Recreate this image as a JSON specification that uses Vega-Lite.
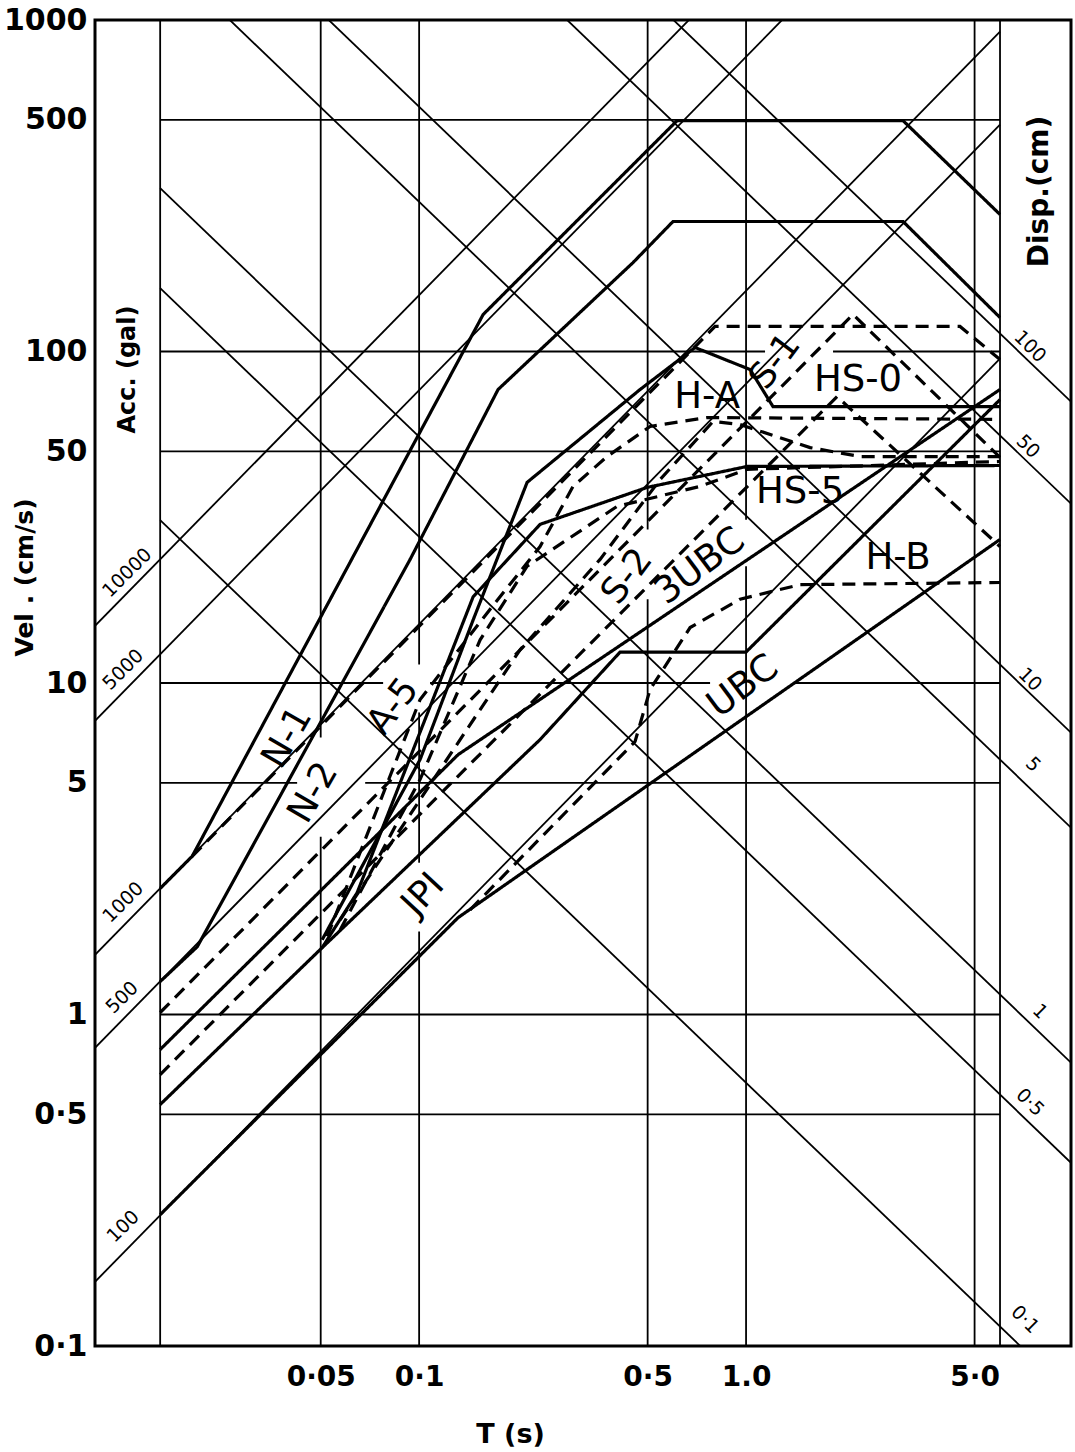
{
  "$schema": "https://vega.github.io/schema/vega-lite/v6.json",
  "width": 976,
  "height": 1326,
  "autosize": {"type": "none"},
  "padding": {"left": 95, "top": 20, "right": 4, "bottom": 106},
  "background": "white",
  "config": {"view": {"stroke": "black", "strokeWidth": 3}, "font": "DejaVu Sans"},
  "datasets": {
    "grid": [
      {"t": 0.01614, "t2": 5.981, "v": 500, "v2": 500},
      {"t": 0.01614, "t2": 1.143, "v": 100, "v2": 100},
      {"t": 1.845, "t2": 5.981, "v": 100, "v2": 100},
      {"t": 0.01614, "t2": 5.981, "v": 50, "v2": 50},
      {"t": 0.01614, "t2": 0.0776, "v": 10, "v2": 10},
      {"t": 0.108, "t2": 0.7761, "v": 10, "v2": 10},
      {"t": 1.392, "t2": 5.981, "v": 10, "v2": 10},
      {"t": 0.01614, "t2": 0.04235, "v": 5, "v2": 5},
      {"t": 0.06839, "t2": 5.981, "v": 5, "v2": 5},
      {"t": 0.01614, "t2": 5.981, "v": 1, "v2": 1},
      {"t": 0.01614, "t2": 5.981, "v": 0.5, "v2": 0.5},
      {"t": 0.01614, "t2": 0.01614, "v": 0.1, "v2": 1000},
      {"t": 0.05, "t2": 0.05, "v": 0.1, "v2": 3.44},
      {"t": 0.05, "t2": 0.05, "v": 6.85, "v2": 1000},
      {"t": 0.1, "t2": 0.1, "v": 0.1, "v2": 1.78},
      {"t": 0.1, "t2": 0.1, "v": 2.87, "v2": 8.15},
      {"t": 0.1, "t2": 0.1, "v": 11.37, "v2": 1000},
      {"t": 0.5, "t2": 0.5, "v": 0.1, "v2": 17.9},
      {"t": 0.5, "t2": 0.5, "v": 29.04, "v2": 1000},
      {"t": 1, "t2": 1, "v": 0.1, "v2": 22.5},
      {"t": 1, "t2": 1, "v": 31.1, "v2": 1000},
      {"t": 5, "t2": 5, "v": 0.1, "v2": 1000},
      {"t": 5.981, "t2": 5.981, "v": 0.1, "v2": 1000},
      {"t": 0.0102, "t2": 5.981, "v": 0.1562, "v2": 95.1},
      {"t": 0.0102, "t2": 5.981, "v": 0.7933, "v2": 483.3},
      {"t": 0.0102, "t2": 5.981, "v": 1.514, "v2": 921.9},
      {"t": 0.0102, "t2": 5.981, "v": 7.691, "v2": 4684},
      {"t": 0.0102, "t2": 5.981, "v": 14.88, "v2": 9062},
      {"t": 0.01614, "t2": 9.86, "v": 30680, "v2": 70.56},
      {"t": 0.01614, "t2": 9.86, "v": 15084, "v2": 34.75},
      {"t": 0.01614, "t2": 9.86, "v": 3078, "v2": 7.08},
      {"t": 0.01614, "t2": 9.86, "v": 1591, "v2": 3.66},
      {"t": 0.01614, "t2": 9.86, "v": 311.2, "v2": 0.7155},
      {"t": 0.01614, "t2": 9.86, "v": 155.3, "v2": 0.3571},
      {"t": 0.01614, "t2": 9.86, "v": 31.0, "v2": 0.0713}
    ],
    "curves": [
      {"c": "N-1", "s": "solid", "i": 0, "t": 0.01614, "v": 2.40},
      {"c": "N-1", "s": "solid", "i": 1, "t": 0.02022, "v": 3.00},
      {"c": "N-1", "s": "solid", "i": 2, "t": 0.157, "v": 129.3},
      {"c": "N-1", "s": "solid", "i": 3, "t": 0.6151, "v": 497},
      {"c": "N-1", "s": "solid", "i": 4, "t": 3.021, "v": 497},
      {"c": "N-1", "s": "solid", "i": 5, "t": 5.981, "v": 259},
      {"c": "N-2", "s": "solid", "i": 0, "t": 0.01614, "v": 1.257},
      {"c": "N-2", "s": "solid", "i": 1, "t": 0.02095, "v": 1.60},
      {"c": "N-2", "s": "solid", "i": 2, "t": 0.09386, "v": 23.6},
      {"c": "N-2", "s": "solid", "i": 3, "t": 0.1744, "v": 76.8},
      {"c": "N-2", "s": "solid", "i": 4, "t": 0.4512, "v": 185.5},
      {"c": "N-2", "s": "solid", "i": 5, "t": 0.5978, "v": 246.7},
      {"c": "N-2", "s": "solid", "i": 6, "t": 3.021, "v": 246.7},
      {"c": "N-2", "s": "solid", "i": 7, "t": 5.981, "v": 126.6},
      {"c": "H-A", "s": "solid", "i": 0, "t": 0.0505, "v": 1.68},
      {"c": "H-A", "s": "solid", "i": 1, "t": 0.1007, "v": 5.88},
      {"c": "H-A", "s": "solid", "i": 2, "t": 0.1463, "v": 15.5},
      {"c": "H-A", "s": "solid", "i": 3, "t": 0.214, "v": 40.3},
      {"c": "H-A", "s": "solid", "i": 4, "t": 0.4741, "v": 76.8},
      {"c": "H-A", "s": "solid", "i": 5, "t": 0.6983, "v": 102.8},
      {"c": "H-A", "s": "solid", "i": 6, "t": 1.029, "v": 88.2},
      {"c": "H-A", "s": "solid", "i": 7, "t": 1.209, "v": 68.2},
      {"c": "H-A", "s": "solid", "i": 8, "t": 5.981, "v": 68.2},
      {"c": "HS-5", "s": "solid", "i": 0, "t": 0.0505, "v": 1.59},
      {"c": "HS-5", "s": "solid", "i": 1, "t": 0.06462, "v": 2.33},
      {"c": "HS-5", "s": "solid", "i": 2, "t": 0.1463, "v": 18.2},
      {"c": "HS-5", "s": "solid", "i": 3, "t": 0.2344, "v": 30.1},
      {"c": "HS-5", "s": "solid", "i": 4, "t": 0.498, "v": 38.9},
      {"c": "HS-5", "s": "solid", "i": 5, "t": 1.007, "v": 45.0},
      {"c": "HS-5", "s": "solid", "i": 6, "t": 5.981, "v": 45.3},
      {"c": "JPI", "s": "solid", "i": 0, "t": 0.01614, "v": 0.535},
      {"c": "JPI", "s": "solid", "i": 1, "t": 0.0505, "v": 1.59},
      {"c": "JPI", "s": "solid", "i": 2, "t": 0.2344, "v": 6.75},
      {"c": "JPI", "s": "solid", "i": 3, "t": 0.4119, "v": 12.4},
      {"c": "JPI", "s": "solid", "i": 4, "t": 1.0, "v": 12.4},
      {"c": "JPI", "s": "solid", "i": 5, "t": 5.981, "v": 71.6},
      {"c": "3UBC", "s": "solid", "i": 0, "t": 0.01614, "v": 0.784},
      {"c": "3UBC", "s": "solid", "i": 1, "t": 0.1316, "v": 6.08},
      {"c": "3UBC", "s": "solid", "i": 2, "t": 5.981, "v": 76.8},
      {"c": "UBC", "s": "solid", "i": 0, "t": 0.01614, "v": 0.249},
      {"c": "UBC", "s": "solid", "i": 1, "t": 0.1316, "v": 1.96},
      {"c": "UBC", "s": "solid", "i": 2, "t": 5.981, "v": 27.1},
      {"c": "S-1", "s": "dashed", "i": 0, "t": 0.01614, "v": 1.014},
      {"c": "S-1", "s": "dashed", "i": 1, "t": 2.124, "v": 129.3},
      {"c": "S-1", "s": "dashed", "i": 2, "t": 5.981, "v": 47.9},
      {"c": "HS-0", "s": "dashed", "i": 0, "t": 0.01614, "v": 0.659},
      {"c": "HS-0", "s": "dashed", "i": 1, "t": 1.898, "v": 73.1},
      {"c": "HS-0", "s": "dashed", "i": 2, "t": 5.981, "v": 25.8},
      {"c": "N-d", "s": "dashed", "i": 0, "t": 0.02022, "v": 3.00},
      {"c": "N-d", "s": "dashed", "i": 1, "t": 0.8039, "v": 119.0},
      {"c": "N-d", "s": "dashed", "i": 2, "t": 4.512, "v": 119.0},
      {"c": "N-d", "s": "dashed", "i": 3, "t": 5.981, "v": 94.6},
      {"c": "A-5", "s": "dashed", "i": 0, "t": 0.05233, "v": 1.72},
      {"c": "A-5", "s": "dashed", "i": 1, "t": 0.1007, "v": 8.92},
      {"c": "A-5", "s": "dashed", "i": 2, "t": 0.1649, "v": 16.7},
      {"c": "A-5", "s": "dashed", "i": 3, "t": 0.2344, "v": 25.8},
      {"c": "A-5", "s": "dashed", "i": 4, "t": 0.2958, "v": 39.2},
      {"c": "A-5", "s": "dashed", "i": 5, "t": 0.3757, "v": 48.2},
      {"c": "A-5", "s": "dashed", "i": 6, "t": 0.5086, "v": 59.4},
      {"c": "A-5", "s": "dashed", "i": 7, "t": 0.76, "v": 63.2},
      {"c": "A-5", "s": "dashed", "i": 8, "t": 5.981, "v": 62.4},
      {"c": "S-2", "s": "dashed", "i": 0, "t": 0.05733, "v": 1.93},
      {"c": "S-2", "s": "dashed", "i": 1, "t": 0.1007, "v": 4.45},
      {"c": "S-2", "s": "dashed", "i": 2, "t": 0.2037, "v": 12.6},
      {"c": "S-2", "s": "dashed", "i": 3, "t": 0.3577, "v": 23.6},
      {"c": "S-2", "s": "dashed", "i": 4, "t": 0.5458, "v": 41.1},
      {"c": "S-2", "s": "dashed", "i": 5, "t": 0.7925, "v": 61.5},
      {"c": "S-2", "s": "dashed", "i": 6, "t": 0.9587, "v": 60.2},
      {"c": "S-2", "s": "dashed", "i": 7, "t": 1.57, "v": 51.3},
      {"c": "S-2", "s": "dashed", "i": 8, "t": 2.232, "v": 48.2},
      {"c": "S-2", "s": "dashed", "i": 9, "t": 5.981, "v": 48.2},
      {"c": "HS-5d", "s": "dashed", "i": 0, "t": 0.05733, "v": 1.80},
      {"c": "HS-5d", "s": "dashed", "i": 1, "t": 0.1007, "v": 5.12},
      {"c": "HS-5d", "s": "dashed", "i": 2, "t": 0.1537, "v": 13.5},
      {"c": "HS-5d", "s": "dashed", "i": 3, "t": 0.214, "v": 22.5},
      {"c": "HS-5d", "s": "dashed", "i": 4, "t": 0.4032, "v": 34.1},
      {"c": "HS-5d", "s": "dashed", "i": 5, "t": 0.7235, "v": 39.2},
      {"c": "HS-5d", "s": "dashed", "i": 6, "t": 1.007, "v": 44.1},
      {"c": "HS-5d", "s": "dashed", "i": 7, "t": 5.981, "v": 46.6},
      {"c": "H-B", "s": "dashed", "i": 0, "t": 0.1432, "v": 2.07},
      {"c": "H-B", "s": "dashed", "i": 1, "t": 0.4576, "v": 6.66},
      {"c": "H-B", "s": "dashed", "i": 2, "t": 0.5086, "v": 9.56},
      {"c": "H-B", "s": "dashed", "i": 3, "t": 0.6743, "v": 14.7},
      {"c": "H-B", "s": "dashed", "i": 4, "t": 0.9587, "v": 17.9},
      {"c": "H-B", "s": "dashed", "i": 5, "t": 1.463, "v": 19.8},
      {"c": "H-B", "s": "dashed", "i": 6, "t": 5.981, "v": 20.1}
    ],
    "labels": [
      {"name": "N-1", "t": 0.03948, "v": 6.85},
      {"name": "N-2", "t": 0.04741, "v": 4.67},
      {"name": "A-5", "t": 0.08326, "v": 8.49},
      {"name": "H-A", "t": 0.76, "v": 73.1},
      {"name": "S-1", "t": 1.227, "v": 93.3},
      {"name": "HS-0", "t": 2.2, "v": 82.3},
      {"name": "HS-5", "t": 1.463, "v": 37.6},
      {"name": "S-2", "t": 0.4325, "v": 20.96},
      {"name": "3UBC", "t": 0.7235, "v": 22.5},
      {"name": "H-B", "t": 2.916, "v": 23.9},
      {"name": "UBC", "t": 0.979, "v": 9.76},
      {"name": "JPI", "t": 0.1028, "v": 2.30}
    ],
    "dlabels": [
      {"txt": "10000", "kind": "acc", "t": 0.01279, "v": 21.5},
      {"txt": "5000", "kind": "acc", "t": 0.01244, "v": 10.98},
      {"txt": "1000", "kind": "acc", "t": 0.01244, "v": 2.18},
      {"txt": "500", "kind": "acc", "t": 0.01235, "v": 1.125},
      {"txt": "100", "kind": "acc", "t": 0.01244, "v": 0.2293},
      {"txt": "100", "kind": "disp", "t": 7.387, "v": 103.5},
      {"txt": "50", "kind": "disp", "t": 7.286, "v": 51.7},
      {"txt": "10", "kind": "disp", "t": 7.387, "v": 10.25},
      {"txt": "5", "kind": "disp", "t": 7.545, "v": 5.68},
      {"txt": "1", "kind": "disp", "t": 7.927, "v": 1.021},
      {"txt": "0·5", "kind": "disp", "t": 7.387, "v": 0.543},
      {"txt": "0·1", "kind": "disp", "t": 7.133, "v": 0.1202}
    ],
    "units": [
      {"txt": "Acc. (gal)", "side": "left", "t": 0.01288, "v": 88.2},
      {"txt": "Disp.(cm)", "side": "right", "t": 7.927, "v": 303.9}
    ]
  },
  "encoding": {
    "x": {"field": "t", "type": "quantitative", "scale": {"type": "log", "domain": [0.0102, 9.86], "nice": false},
      "axis": {"values": [0.05, 0.1, 0.5, 1, 5], "labelExpr": "datum.value == 0.05 ? '0·05' : datum.value == 0.1 ? '0·1' : datum.value == 0.5 ? '0·5' : datum.value == 1 ? '1.0' : '5·0'",
        "grid": false, "ticks": false, "domain": false, "labelFlush": false, "labelOverlap": false, "labelBound": false,
        "labelFontSize": 28, "labelFontWeight": "bold", "labelColor": "black", "labelPadding": 17, "labelBaseline": "top",
        "title": "T (s)", "titleFontSize": 27, "titleFontWeight": "bold", "titleColor": "black", "titleX": 415, "titleY": 88, "titleBaseline": "middle", "titleAlign": "center"}},
    "y": {"field": "v", "type": "quantitative", "scale": {"type": "log", "domain": [0.1, 1000], "nice": false},
      "axis": {"values": [0.1, 0.5, 1, 5, 10, 50, 100, 500, 1000], "labelExpr": "datum.value < 0.2 ? '0·1' : datum.value < 0.8 ? '0·5' : format(datum.value, 'd')",
        "grid": false, "ticks": false, "domain": false, "labelFlush": false, "labelOverlap": false, "labelBound": false,
        "labelFontSize": 30, "labelFontWeight": "bold", "labelColor": "black", "labelPadding": 8,
        "title": "Vel . (cm/s)", "titleFontSize": 25, "titleFontWeight": "bold", "titleColor": "black", "titleX": -71, "titleY": 557, "titleAngle": 270, "titleAlign": "center", "titleBaseline": "middle"}}
  },
  "layer": [
    {
      "data": {"name": "grid"},
      "mark": {"type": "rule", "color": "black", "strokeWidth": 1.8, "clip": true},
      "encoding": {"x2": {"field": "t2"}, "y2": {"field": "v2"}}
    },
    {
      "data": {"name": "curves"},
      "mark": {"type": "line", "color": "black", "strokeWidth": 3.2, "clip": true},
      "encoding": {
        "detail": {"field": "c", "type": "nominal"},
        "order": {"field": "i", "type": "quantitative"},
        "strokeDash": {"field": "s", "type": "nominal", "scale": {"domain": ["solid", "dashed"], "range": [[1, 0], [13, 8]]}, "legend": null}
      }
    },
    {
      "data": {"name": "labels"},
      "transform": [{"filter": "indexof(['H-A','HS-0','HS-5','H-B'], datum.name) >= 0"}],
      "mark": {"type": "text", "fontSize": 37, "color": "black", "align": "center", "baseline": "middle"},
      "encoding": {"text": {"field": "name"}}
    },
    {
      "data": {"name": "labels"},
      "transform": [{"filter": "indexof(['N-1','N-2'], datum.name) >= 0"}],
      "mark": {"type": "text", "fontSize": 36, "color": "black", "align": "center", "baseline": "middle", "angle": -60},
      "encoding": {"text": {"field": "name"}}
    },
    {
      "data": {"name": "labels"},
      "transform": [{"filter": "indexof(['A-5','S-1','S-2'], datum.name) >= 0"}],
      "mark": {"type": "text", "fontSize": 36, "color": "black", "align": "center", "baseline": "middle", "angle": -53},
      "encoding": {"text": {"field": "name"}}
    },
    {
      "data": {"name": "labels"},
      "transform": [{"filter": "indexof(['3UBC','UBC'], datum.name) >= 0"}],
      "mark": {"type": "text", "fontSize": 37, "color": "black", "align": "center", "baseline": "middle", "angle": -37},
      "encoding": {"text": {"field": "name"}}
    },
    {
      "data": {"name": "labels"},
      "transform": [{"filter": "datum.name == 'JPI'"}],
      "mark": {"type": "text", "fontSize": 36, "color": "black", "align": "center", "baseline": "middle", "angle": -47},
      "encoding": {"text": {"field": "name"}}
    },
    {
      "data": {"name": "dlabels"},
      "transform": [{"filter": "datum.kind == 'acc'"}],
      "mark": {"type": "text", "fontSize": 19, "color": "black", "align": "center", "baseline": "middle", "angle": -45},
      "encoding": {"text": {"field": "txt"}}
    },
    {
      "data": {"name": "dlabels"},
      "transform": [{"filter": "datum.kind == 'disp'"}],
      "mark": {"type": "text", "fontSize": 19, "color": "black", "align": "center", "baseline": "middle", "angle": 45},
      "encoding": {"text": {"field": "txt"}}
    },
    {
      "data": {"name": "units"},
      "transform": [{"filter": "datum.side == 'left'"}],
      "mark": {"type": "text", "fontSize": 24, "fontWeight": "bold", "color": "black", "align": "center", "baseline": "middle", "angle": -90},
      "encoding": {"text": {"field": "txt"}}
    },
    {
      "data": {"name": "units"},
      "transform": [{"filter": "datum.side == 'right'"}],
      "mark": {"type": "text", "fontSize": 28, "fontWeight": "bold", "color": "black", "align": "center", "baseline": "middle", "angle": -90},
      "encoding": {"text": {"field": "txt"}}
    }
  ]
}
